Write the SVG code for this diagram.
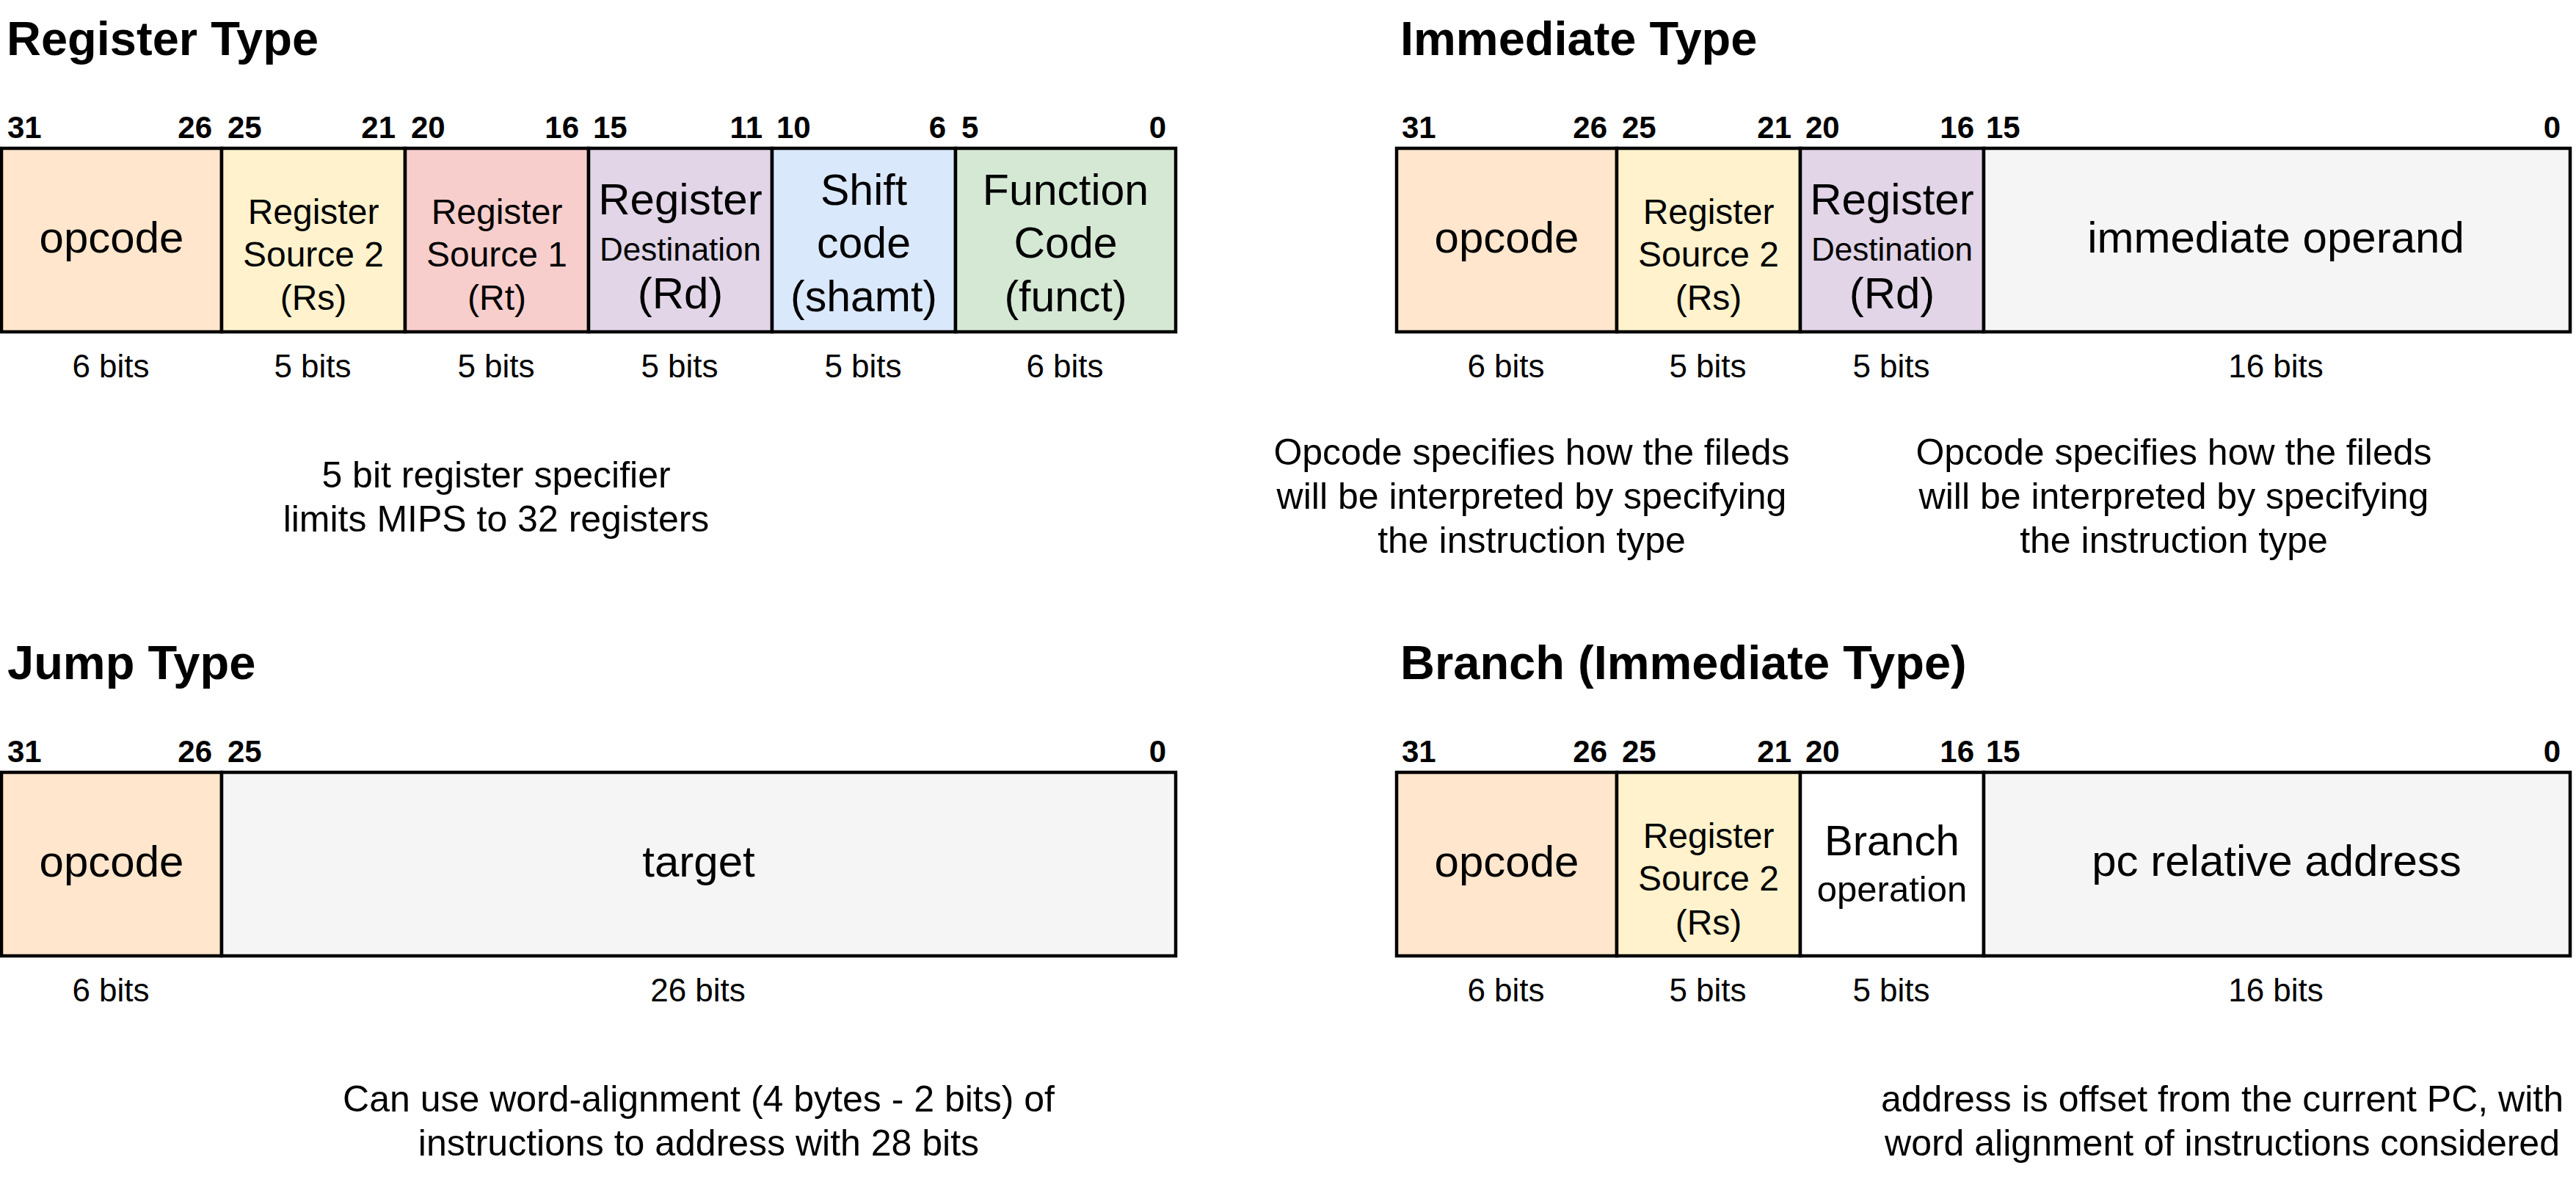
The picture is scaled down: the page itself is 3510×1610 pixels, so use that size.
<svg xmlns="http://www.w3.org/2000/svg" width="3510" height="1610" viewBox="0 0 3510 1610">
<style>
text{font-family:"Liberation Sans",Arial,Helvetica,sans-serif;fill:#000}
.title{font-size:65px;font-weight:bold}
.bit{font-size:42px;font-weight:bold}
.bs{text-anchor:start}
.be{text-anchor:end}
.c{text-anchor:middle}
.f60{font-size:60px}
.f59{font-size:59px}
.f58{font-size:58px}
.f48{font-size:48px}
.f49{font-size:49px}
.f44{font-size:44px}
.w{font-size:44px}
.note{font-size:50px}
rect{stroke:#000;stroke-width:4.5}
.or{fill:#ffe6cc}.ye{fill:#fff2cc}.re{fill:#f8cecc}.pu{fill:#e1d5e7}.bl{fill:#dae8fc}.gr{fill:#d5e8d4}.gy{fill:#f5f5f5}.wh{fill:#ffffff}
</style>
<rect x="0" y="0" width="3510" height="1610" style="fill:#ffffff;stroke:none"/>

<!-- Register Type -->
<g id="register-type">
<text class="title" x="9" y="75">Register Type</text>
<g class="bit">
<text class="bs" x="10" y="188">31</text>
<text class="be" x="289" y="188">26</text>
<text class="bs" x="310" y="188">25</text>
<text class="be" x="539" y="188">21</text>
<text class="bs" x="560" y="188">20</text>
<text class="be" x="789" y="188">16</text>
<text class="bs" x="808" y="188">15</text>
<text class="be" x="1039" y="188">11</text>
<text class="bs" x="1058" y="188">10</text>
<text class="be" x="1289" y="188">6</text>
<text class="bs" x="1310" y="188">5</text>
<text class="be" x="1589" y="188">0</text>
</g>
<g id="r-opcode"><rect class="or" x="2" y="202" width="300" height="250"/><text class="c f60" x="152" y="344">opcode</text></g>
<g id="r-rs"><rect class="ye" x="302" y="202" width="250" height="250"/><text class="c f48" x="427" y="305">Register</text><text class="c f48" x="427" y="363">Source 2</text><text class="c f48" x="427" y="422">(Rs)</text></g>
<g id="r-rt"><rect class="re" x="552" y="202" width="250" height="250"/><text class="c f48" x="677" y="305">Register</text><text class="c f48" x="677" y="363">Source 1</text><text class="c f48" x="677" y="422">(Rt)</text></g>
<g id="r-rd"><rect class="pu" x="802" y="202" width="250" height="250"/><text class="c f60" x="927" y="292">Register</text><text class="c f44" x="927" y="355">Destination</text><text class="c f60" x="927" y="420">(Rd)</text></g>
<g id="r-shamt"><rect class="bl" x="1052" y="202" width="250" height="250"/><text class="c f59" x="1177" y="279">Shift</text><text class="c f59" x="1177" y="351">code</text><text class="c f59" x="1177" y="424">(shamt)</text></g>
<g id="r-funct"><rect class="gr" x="1302" y="202" width="300" height="250"/><text class="c f59" x="1452" y="279">Function</text><text class="c f59" x="1452" y="351">Code</text><text class="c f59" x="1452" y="424">(funct)</text></g>
<g class="w c">
<text x="151" y="514">6 bits</text>
<text x="426" y="514">5 bits</text>
<text x="676" y="514">5 bits</text>
<text x="926" y="514">5 bits</text>
<text x="1176" y="514">5 bits</text>
<text x="1451" y="514">6 bits</text>
</g>
<text class="note c" x="676" y="664">5 bit register specifier</text>
<text class="note c" x="676" y="724">limits MIPS to 32 registers</text>
</g>

<!-- Immediate Type -->
<g id="immediate-type">
<text class="title" x="1908" y="75">Immediate Type</text>
<g class="bit">
<text class="bs" x="1910" y="188">31</text>
<text class="be" x="2190" y="188">26</text>
<text class="bs" x="2210" y="188">25</text>
<text class="be" x="2441" y="188">21</text>
<text class="bs" x="2460" y="188">20</text>
<text class="be" x="2690" y="188">16</text>
<text class="bs" x="2706" y="188">15</text>
<text class="be" x="3489" y="188">0</text>
</g>
<g id="i-opcode"><rect class="or" x="1903" y="202" width="300" height="250"/><text class="c f60" x="2053" y="344">opcode</text></g>
<g id="i-rs"><rect class="ye" x="2203" y="202" width="250" height="250"/><text class="c f48" x="2328" y="305">Register</text><text class="c f48" x="2328" y="363">Source 2</text><text class="c f48" x="2328" y="422">(Rs)</text></g>
<g id="i-rd"><rect class="pu" x="2453" y="202" width="250" height="250"/><text class="c f60" x="2578" y="292">Register</text><text class="c f44" x="2578" y="355">Destination</text><text class="c f60" x="2578" y="420">(Rd)</text></g>
<g id="i-imm"><rect class="gy" x="2703" y="202" width="799" height="250"/><text class="c f60" x="3101" y="344">immediate operand</text></g>
<g class="w c">
<text x="2052" y="514">6 bits</text>
<text x="2327" y="514">5 bits</text>
<text x="2577" y="514">5 bits</text>
<text x="3101" y="514">16 bits</text>
</g>
<text class="note c" x="2087" y="633">Opcode specifies how the fileds</text>
<text class="note c" x="2087" y="693">will be interpreted by specifying</text>
<text class="note c" x="2087" y="753">the instruction type</text>
<text class="note c" x="2962" y="633">Opcode specifies how the fileds</text>
<text class="note c" x="2962" y="693">will be interpreted by specifying</text>
<text class="note c" x="2962" y="753">the instruction type</text>
</g>

<!-- Jump Type -->
<g id="jump-type">
<text class="title" x="10" y="925">Jump Type</text>
<g class="bit">
<text class="bs" x="10" y="1038">31</text>
<text class="be" x="289" y="1038">26</text>
<text class="bs" x="310" y="1038">25</text>
<text class="be" x="1589" y="1038">0</text>
</g>
<g id="j-opcode"><rect class="or" x="2" y="1052" width="300" height="250"/><text class="c f60" x="152" y="1194">opcode</text></g>
<g id="j-target"><rect class="gy" x="302" y="1052" width="1300" height="250"/><text class="c f60" x="952" y="1194">target</text></g>
<g class="w c">
<text x="151" y="1364">6 bits</text>
<text x="951" y="1364">26 bits</text>
</g>
<text class="note c" x="952" y="1514">Can use word-alignment (4 bytes - 2 bits) of</text>
<text class="note c" x="952" y="1574">instructions to address with 28 bits</text>
</g>

<!-- Branch (Immediate Type) -->
<g id="branch-type">
<text class="title" x="1908" y="925">Branch (Immediate Type)</text>
<g class="bit">
<text class="bs" x="1910" y="1038">31</text>
<text class="be" x="2190" y="1038">26</text>
<text class="bs" x="2210" y="1038">25</text>
<text class="be" x="2441" y="1038">21</text>
<text class="bs" x="2460" y="1038">20</text>
<text class="be" x="2690" y="1038">16</text>
<text class="bs" x="2706" y="1038">15</text>
<text class="be" x="3489" y="1038">0</text>
</g>
<g id="b-opcode"><rect class="or" x="1903" y="1052" width="300" height="250"/><text class="c f60" x="2053" y="1194">opcode</text></g>
<g id="b-rs"><rect class="ye" x="2203" y="1052" width="250" height="250"/><text class="c f48" x="2328" y="1155">Register</text><text class="c f48" x="2328" y="1213">Source 2</text><text class="c f48" x="2328" y="1273">(Rs)</text></g>
<g id="b-op"><rect class="wh" x="2453" y="1052" width="250" height="250"/><text class="c f58" x="2578" y="1165">Branch</text><text class="c f49" x="2578" y="1228">operation</text></g>
<g id="b-addr"><rect class="gy" x="2703" y="1052" width="799" height="250"/><text class="c f60" x="3102" y="1193">pc relative address</text></g>
<g class="w c">
<text x="2052" y="1364">6 bits</text>
<text x="2327" y="1364">5 bits</text>
<text x="2577" y="1364">5 bits</text>
<text x="3101" y="1364">16 bits</text>
</g>
<text class="note c" x="3028" y="1514">address is offset from the current PC, with</text>
<text class="note c" x="3028" y="1574">word alignment of instructions considered</text>
</g>

<g id="connectors"></g>
</svg>
